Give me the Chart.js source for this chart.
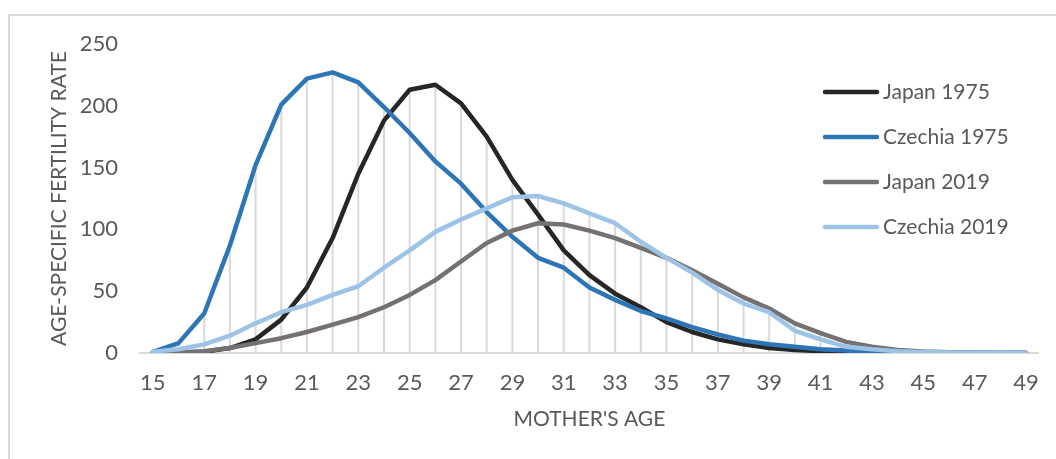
<!DOCTYPE html>
<html>
<head>
<meta charset="utf-8">
<script src="https://cdn.jsdelivr.net/npm/chart.js@4/dist/chart.umd.min.js"></script>
<style>
  html, body { margin: 0; padding: 0; background: #ffffff; }
  canvas { display: block; }
</style>
</head>
<body>
<canvas id="chart" width="1056" height="459"></canvas>
<script>
// Mother's age, one category per year
const ages = [15, 16, 17, 18, 19, 20, 21, 22, 23, 24, 25, 26, 27, 28, 29, 30, 31, 32,
              33, 34, 35, 36, 37, 38, 39, 40, 41, 42, 43, 44, 45, 46, 47, 48, 49];

// Age-specific fertility rates (births per 1000 women)
const japan1975 = [0, 0.2, 1, 4, 11, 27, 53, 93, 145, 188, 213, 217, 202, 175, 140, 112, 83, 63,
                   48, 37, 25, 17, 11, 7, 4, 2.5, 1.5, 0.8, 0.3, 0.1, 0.1, 0, 0, 0, 0];
const czechia1975 = [1, 8, 32, 87, 152, 201, 222, 227, 219, 199, 178, 155, 137, 114, 94, 77, 69, 53,
                     43, 34, 28, 21, 15, 10, 7, 5, 3, 2, 1, 0.5, 0.3, 0.2, 0.1, 0, 0];
const japan2019 = [0, 0.5, 1.5, 4, 8, 12, 17, 23, 29, 37, 47, 59, 74, 89, 99, 105, 104, 99,
                   93, 85, 77, 67, 56, 45, 36, 24, 16, 9, 5, 2.5, 1.2, 0.6, 0.3, 0.1, 0];
const czechia2019 = [1, 3, 7, 14, 24, 33, 39, 47, 54, 69, 83, 98, 108, 117, 126, 127, 121, 113,
                     105, 90, 77, 65, 51, 40, 33, 18, 11, 5, 3, 1.5, 0.8, 0.5, 0.3, 0.2, 0.1];

const seriesNames = ['Japan 1975', 'Czechia 1975', 'Japan 2019', 'Czechia 2019'];
const seriesValues = [japan1975, czechia1975, japan2019, czechia2019];
const seriesColors = ['#262626', '#2E75B6', '#767171', '#9DC3E6'];

// Value axis ticks
const yTicks = [0, 50, 100, 150, 200, 250];

const FONT = 'Lato, "Open Sans", sans-serif';
const TEXT = '#595959';
const RULE = '#d9d9d9';

// Thin frame along the top and left edges of the chart
const frame = {
  id: 'frame',
  beforeDraw(chart) {
    const c = chart.ctx;
    c.save();
    c.fillStyle = '#ffffff';
    c.fillRect(0, 0, chart.width, chart.height);
    c.strokeStyle = RULE;
    c.lineWidth = 2;
    c.beginPath();
    c.moveTo(9, chart.height);
    c.lineTo(9, 15);
    c.lineTo(chart.width, 15);
    c.stroke();
    c.restore();
  }
};

// Vertical drop lines from the highest series down to the category axis
const dropLines = {
  id: 'dropLines',
  beforeDatasetsDraw(chart) {
    const c = chart.ctx;
    const xs = chart.scales.x, ys = chart.scales.y;
    c.save();
    c.strokeStyle = RULE;
    c.lineWidth = 2;
    ages.forEach((a, i) => {
      const top = Math.max(...seriesValues.map(s => s[i]));
      const x = xs.getPixelForValue(i);
      c.beginPath();
      c.moveTo(x, ys.getPixelForValue(0));
      c.lineTo(x, ys.getPixelForValue(top));
      c.stroke();
    });
    c.restore();
  }
};

// Legend drawn inside the plot on the right
const sideLegend = {
  id: 'sideLegend',
  afterDraw(chart) {
    const c = chart.ctx;
    c.save();
    c.font = '21px ' + FONT;
    c.textBaseline = 'middle';
    c.textAlign = 'left';
    chart.data.datasets.forEach((ds, i) => {
      const y = 92 + i * 45;
      c.strokeStyle = ds.borderColor;
      c.lineWidth = 4.5;
      c.lineCap = 'round';
      c.beginPath();
      c.moveTo(825, y);
      c.lineTo(877, y);
      c.stroke();
      c.fillStyle = TEXT;
      c.fillText(ds.label, 883, y);
    });
    c.restore();
  }
};

new Chart(document.getElementById('chart'), {
  type: 'line',
  data: {
    labels: ages.map(String),
    datasets: seriesNames.map((name, i) => ({
      label: name,
      data: seriesValues[i],
      borderColor: seriesColors[i],
      backgroundColor: seriesColors[i],
      order: seriesNames.length - i
    }))
  },
  options: {
    responsive: false,
    animation: false,
    layout: { padding: { top: 44, right: 15, bottom: 0, left: 0 } },
    plugins: {
      legend: { display: false },
      tooltip: { enabled: false }
    },
    elements: {
      point: { radius: 0, hoverRadius: 0 },
      line: { tension: 0, borderWidth: 4.5, borderCapStyle: 'round', borderJoinStyle: 'round', fill: false }
    },
    scales: {
      x: {
        type: 'category',
        offset: true,
        grid: { display: false, drawTicks: false },
        border: { display: true, color: RULE, width: 2 },
        ticks: {
          autoSkip: false,
          maxRotation: 0,
          padding: 17,
          color: TEXT,
          font: { family: FONT, size: 22 },
          callback: (v, i) => (i % 2 === 0 ? String(ages[i]) : '')
        },
        title: {
          display: true,
          text: "MOTHER'S AGE",
          color: TEXT,
          font: { family: FONT, size: 21 },
          padding: { top: 0, bottom: 27 }
        },
        afterFit(scale) { scale.height = 106; }
      },
      y: {
        min: yTicks[0],
        max: yTicks[yTicks.length - 1],
        grid: { display: false, drawTicks: false },
        border: { display: false },
        afterBuildTicks(scale) { scale.ticks = yTicks.map(v => ({ value: v })); },
        ticks: {
          padding: 22,
          color: TEXT,
          font: { family: FONT, size: 22 }
        },
        title: {
          display: true,
          text: 'AGE-SPECIFIC FERTILITY RATE',
          color: TEXT,
          font: { family: FONT, size: 21 },
          padding: { top: 47, bottom: 0 }
        },
        afterFit(scale) { scale.width = 140; }
      }
    }
  },
  plugins: [frame, dropLines, sideLegend]
});
</script>
</body>
</html>
